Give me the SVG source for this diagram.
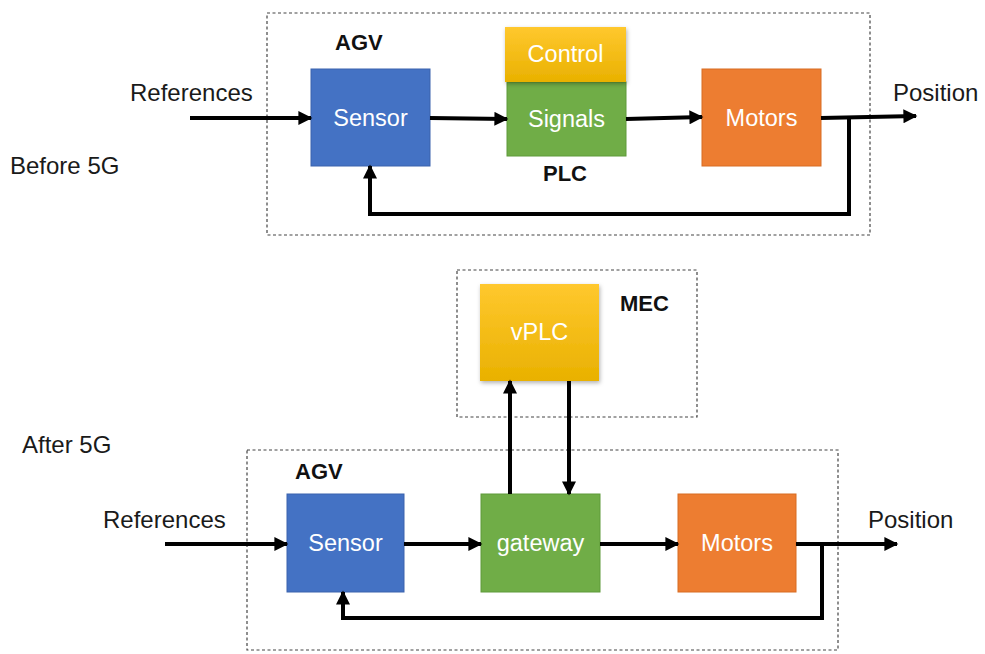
<svg xmlns="http://www.w3.org/2000/svg" width="985" height="654" viewBox="0 0 985 654">
  <style>
    .frame { fill: none; stroke: #444; stroke-width: 1.2; stroke-dasharray: 3 2.5; }
    .wire { fill: none; stroke: #000; stroke-width: 4; stroke-linejoin: miter; }
    .lbl { font-family: "Liberation Sans", Arial, sans-serif; font-size: 24px; fill: #1a1a1a; }
    .head { font-family: "Liberation Sans", Arial, sans-serif; font-size: 22px; font-weight: bold; fill: #111; }
    .in { font-family: "Liberation Sans", Arial, sans-serif; font-size: 23.5px; fill: #fff; text-anchor: middle; dominant-baseline: central; }
    .blue { fill: #4472C4; stroke: #3a63ad; stroke-width: 1; }
    .green { fill: #70AD47; stroke: #5f9a3a; stroke-width: 1; }
    .orange { fill: #ED7D31; stroke: #d86c23; stroke-width: 1; }
    .gold { fill: url(#goldGrad); filter: url(#soft); }
  </style>
  <defs>
    <linearGradient id="goldGrad" x1="0" y1="0" x2="0" y2="1">
      <stop offset="0" stop-color="#FFC82E"/>
      <stop offset="1" stop-color="#E9B100"/>
    </linearGradient>
    <filter id="soft" x="-10%" y="-10%" width="125%" height="130%">
      <feDropShadow dx="1" dy="2" stdDeviation="2" flood-color="#000" flood-opacity="0.3"/>
    </filter>
    <marker id="arr" viewBox="0 0 10 10" refX="9" refY="5" markerWidth="4.2" markerHeight="3.5" orient="auto" markerUnits="strokeWidth">
      <path d="M0,0 L10,5 L0,10 z" fill="#000"/>
    </marker>
  </defs>

  <rect width="985" height="654" fill="#fff"/>

  <!-- Before 5G -->
  <text class="lbl" x="10" y="174">Before 5G</text>
  <rect id="agv-frame-top" class="frame" x="267" y="13" width="603" height="222"/>
  <text class="head" x="335" y="50">AGV</text>
  <text class="lbl" x="130" y="101">References</text>
  <text class="lbl" x="893" y="101">Position</text>

  <g id="sensor-top">
    <rect class="blue" x="311" y="69" width="119" height="97"/>
    <text class="in" x="370.5" y="118">Sensor</text>
  </g>
  <g id="plc-top">
    <rect class="green" x="507" y="82" width="119" height="74"/>
    <text class="in" x="566.5" y="119">Signals</text>
    <rect class="gold" x="505" y="27" width="121" height="55"/>
    <text class="in" x="565.5" y="54">Control</text>
    <text class="head" x="543" y="181">PLC</text>
  </g>
  <g id="motors-top">
    <rect class="orange" x="702" y="69" width="119" height="97"/>
    <text class="in" x="761.5" y="118">Motors</text>
  </g>

  <!-- After 5G -->
  <text class="lbl" x="22" y="453">After 5G</text>
  <rect id="mec-frame" class="frame" x="457" y="270" width="240" height="147"/>
  <text class="head" x="620" y="311">MEC</text>
  <g id="vplc">
    <rect class="gold" x="480" y="284" width="119" height="97"/>
    <text class="in" x="539.5" y="332">vPLC</text>
  </g>
  <rect id="agv-frame-bottom" class="frame" x="247" y="450" width="591" height="200"/>
  <text class="head" x="295" y="479">AGV</text>
  <text class="lbl" x="103" y="528">References</text>
  <text class="lbl" x="868" y="528">Position</text>

  <g id="sensor-bottom">
    <rect class="blue" x="287" y="494" width="117" height="98"/>
    <text class="in" x="345.5" y="543">Sensor</text>
  </g>
  <g id="gateway">
    <rect class="green" x="481" y="494" width="119" height="98"/>
    <text class="in" x="540.5" y="543">gateway</text>
  </g>
  <g id="motors-bottom">
    <rect class="orange" x="678" y="494" width="118" height="98"/>
    <text class="in" x="737" y="543">Motors</text>
  </g>

  <!-- Connectors -->
  <g id="connectors">
    <line class="wire" x1="190" y1="118" x2="311" y2="118" marker-end="url(#arr)"/>
    <line class="wire" x1="430" y1="118" x2="507" y2="119" marker-end="url(#arr)"/>
    <line class="wire" x1="626" y1="119" x2="702" y2="117" marker-end="url(#arr)"/>
    <line class="wire" x1="821" y1="118" x2="916" y2="116" marker-end="url(#arr)"/>
    <polyline class="wire" points="849,118 849,214 370,214 370,166" marker-end="url(#arr)"/>

    <line class="wire" x1="165" y1="544" x2="287" y2="544" marker-end="url(#arr)"/>
    <line class="wire" x1="404" y1="544" x2="481" y2="544" marker-end="url(#arr)"/>
    <line class="wire" x1="600" y1="544" x2="678" y2="544" marker-end="url(#arr)"/>
    <line class="wire" x1="796" y1="544" x2="897" y2="544" marker-end="url(#arr)"/>
    <polyline class="wire" points="822,544 822,618 343,618 343,592" marker-end="url(#arr)"/>
    <line class="wire" x1="510" y1="494" x2="510" y2="381" marker-end="url(#arr)"/>
    <line class="wire" x1="569" y1="381" x2="569" y2="494" marker-end="url(#arr)"/>
  </g>
</svg>
